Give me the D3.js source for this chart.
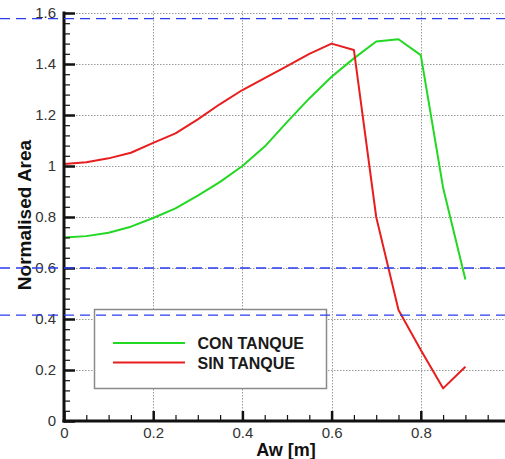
<!DOCTYPE html>
<html>
<head>
<meta charset="utf-8">
<script src="https://cdn.jsdelivr.net/npm/d3@7"></script>
<style>
  html, body { margin: 0; padding: 0; background: #fff; }
  svg { display: block; font-family: "Liberation Sans", Arial, sans-serif; }
</style>
</head>
<body>
<svg id="chart" width="505" height="459"></svg>
<script>
// Aw positions (m) shared by both series
const aw = [0, 0.05, 0.1, 0.15, 0.2, 0.25, 0.3, 0.35, 0.4, 0.45, 0.5,
            0.55, 0.6, 0.65, 0.7, 0.75, 0.8, 0.85, 0.9];
// Normalised area, with tank
const conTanque = [0.72, 0.725, 0.738, 0.762, 0.796, 0.834, 0.884, 0.938, 1.0, 1.076,
                   1.172, 1.265, 1.35, 1.422, 1.488, 1.497, 1.435, 0.915, 0.555];
// Normalised area, without tank
const sinTanque = [1.008, 1.015, 1.03, 1.052, 1.091, 1.128, 1.183, 1.243, 1.298, 1.345,
                   1.392, 1.44, 1.48, 1.455, 0.80, 0.435, 0.278, 0.128, 0.213];
const seriesNames = ["CON TANQUE", "SIN TANQUE"];
// Horizontal reference levels
const refLevels = [1.578, 0.6, 0.415];

const xTicks = [0, 0.2, 0.4, 0.6, 0.8];
const xTickLabels = ["0", "0.2", "0.4", "0.6", "0.8"];
const yTicks = [0, 0.2, 0.4, 0.6, 0.8, 1.0, 1.2, 1.4, 1.6];
const yTickLabels = ["0", "0.2", "0.4", "0.6", "0.8", "1", "1.2", "1.4", "1.6"];
const xMinor = d3.range(0, 1.0001, 0.05);
const yMinor = d3.range(0, 1.6001, 0.04);

const W = 505, H = 459;
const svg = d3.select("#chart");

const x = d3.scaleLinear().domain([0, 1]).range([64, 510]);
const y = d3.scaleLinear().domain([0, 1.6]).range([421, 13]);

// grid
const grid = svg.append("g").attr("stroke", "#9a9a9a").attr("stroke-width", 1)
  .attr("stroke-dasharray", "1.5,1.5");
grid.selectAll("line.h").data(yTicks.filter(v => v > 0)).join("line")
  .attr("x1", x(0)).attr("x2", W)
  .attr("y1", d => Math.round(y(d)) + 0.5).attr("y2", d => Math.round(y(d)) + 0.5);
grid.selectAll("line.v").data(xTicks.filter(v => v > 0)).join("line")
  .attr("y1", y(1.6) - 2).attr("y2", y(0))
  .attr("x1", d => Math.round(x(d)) + 0.5).attr("x2", d => Math.round(x(d)) + 0.5);

// curves
const line = d3.line().x((d, i) => x(aw[i])).y(d => y(d));
const colors = ["#22d822", "#e81e1e"];
[conTanque, sinTanque].forEach((s, k) => {
  svg.append("path").datum(s)
    .attr("d", line)
    .attr("fill", "none")
    .attr("stroke", colors[k])
    .attr("stroke-width", 2)
    .attr("stroke-linejoin", "round");
});

// legend
const lg = svg.append("g");
lg.append("rect").attr("x", 94.5).attr("y", 309.5).attr("width", 232).attr("height", 79)
  .attr("fill", "#fff").attr("stroke", "#8a8a8a").attr("stroke-width", 1.5);
seriesNames.forEach((name, k) => {
  const yy = 343 + k * 19.5;
  lg.append("line").attr("x1", 113).attr("x2", 185).attr("y1", yy).attr("y2", yy)
    .attr("stroke", colors[k]).attr("stroke-width", 2.2);
  lg.append("text").attr("x", 197.5).attr("y", yy + 6)
    .attr("font-size", 16).attr("font-weight", "bold").attr("fill", "#1a1a1a")
    .text(name);
});

// axes
function styleAxis(g) {
  g.select(".domain").remove();
  g.selectAll(".tick line").attr("stroke", "#111");
  g.selectAll(".tick text").attr("fill", "#333").attr("font-size", 15)
    .attr("font-family", "'Liberation Sans', Arial, sans-serif");
}
svg.append("g").attr("transform", `translate(${x(0)},0)`)
  .call(d3.axisLeft(y).tickValues(yMinor).tickSize(-6).tickFormat(""))
  .call(styleAxis).selectAll(".tick line").attr("stroke-width", 1.2);
svg.append("g").attr("transform", `translate(${x(0)},0)`)
  .call(d3.axisLeft(y).tickValues(yTicks).tickSize(-11).tickPadding(8)
    .tickFormat((d, i) => yTickLabels[i]))
  .call(styleAxis).selectAll(".tick line").attr("stroke-width", 2.5);
svg.append("g").attr("transform", `translate(0,${y(0)})`)
  .call(d3.axisBottom(x).tickValues(xMinor).tickSize(-6).tickFormat(""))
  .call(styleAxis).selectAll(".tick line").attr("stroke-width", 1.2);
svg.append("g").attr("transform", `translate(0,${y(0)})`)
  .call(d3.axisBottom(x).tickValues(xTicks).tickSize(-10).tickPadding(6)
    .tickFormat((d, i) => xTickLabels[i]))
  .call(styleAxis).selectAll(".tick line").attr("stroke-width", 2.5);

// axis lines
svg.append("line").attr("x1", x(0)).attr("x2", x(0)).attr("y1", y(1.6) - 1.5).attr("y2", y(0) + 1.5)
  .attr("stroke", "#111").attr("stroke-width", 3);
svg.append("line").attr("x1", x(0) - 1.5).attr("x2", W).attr("y1", y(0)).attr("y2", y(0))
  .attr("stroke", "#111").attr("stroke-width", 3);

// axis titles
svg.append("text").attr("x", 286).attr("y", 456).attr("text-anchor", "middle")
  .attr("font-size", 18).attr("font-weight", "bold").attr("fill", "#111")
  .text("Aw [m]");
svg.append("text").attr("transform", "translate(31,215) rotate(-90)")
  .attr("text-anchor", "middle")
  .attr("font-size", 19).attr("font-weight", "bold").attr("fill", "#111")
  .text("Normalised Area");

// reference levels
svg.append("g").selectAll("line").data(refLevels).join("line")
  .attr("x1", 0).attr("x2", W)
  .attr("y1", d => y(d)).attr("y2", d => y(d))
  .attr("stroke", "#2a3cf0").attr("stroke-width", 1.3)
  .attr("stroke-dasharray", "10,6");
</script>
</body>
</html>
